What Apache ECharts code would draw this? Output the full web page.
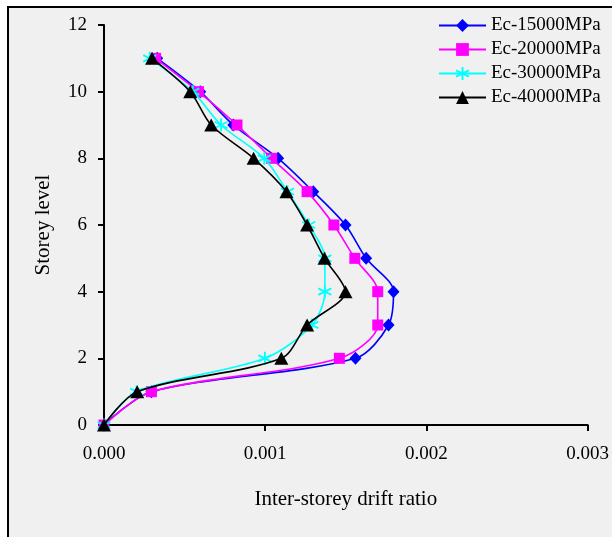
<!DOCTYPE html>
<html>
<head>
<meta charset="utf-8">
<script src="https://cdn.jsdelivr.net/npm/echarts@6/dist/echarts.min.js"></script>
<style>
html,body{margin:0;padding:0;background:#fff;}
#c{width:612px;height:537px;}
</style>
</head>
<body>
<div id="c"></div>
<script>
const levels = [0, 1, 2, 3, 4, 5, 6, 7, 8, 9, 10, 11];
const seriesNames = ['Ec-15000MPa', 'Ec-20000MPa', 'Ec-30000MPa', 'Ec-40000MPa'];
const drift15000 = [0, 0.000294, 0.00156, 0.001765, 0.001796, 0.001626, 0.001498, 0.001298, 0.00108, 0.000802, 0.000597, 0.00033];
const drift20000 = [0, 0.000294, 0.00146, 0.001698, 0.001698, 0.001556, 0.001426, 0.00126, 0.00104, 0.000825, 0.000586, 0.00032];
const drift30000 = [0, 0.000202, 0.000998, 0.00129, 0.00137, 0.00137, 0.00127, 0.001138, 0.000994, 0.000726, 0.000551, 0.000284];
const drift40000 = [0, 0.000206, 0.0011, 0.00126, 0.001498, 0.001368, 0.00126, 0.001132, 0.000928, 0.000665, 0.000535, 0.000298];
const xTicks = [0, 0.001, 0.002, 0.003];
const yTicks = [0, 2, 4, 6, 8, 10, 12];

const FONT = '"Liberation Serif", "Times New Roman", serif';
const starPath = 'path://M0,-10L0,10M-8.66,-5L8.66,5M-8.66,5L8.66,-5';

function pairs(xs) { return xs.map((v, i) => [v, levels[i]]); }

const styles = [
  {color: '#0000ff', symbol: 'diamond', size: [12, 13]},
  {color: '#ff00ff', symbol: 'rect', size: 11},
  {color: '#00ffff', symbol: starPath, size: 13},
  {color: '#000000', symbol: 'triangle', size: [14, 13]}
];
const allData = [drift15000, drift20000, drift30000, drift40000];

const chart = echarts.init(document.getElementById('c'), null, {renderer: 'canvas'});
chart.setOption({
  animation: false,
  backgroundColor: '#ffffff',
  graphic: [{
    type: 'rect', z: -10, silent: true,
    shape: {x: 8, y: 7, width: 700, height: 600},
    style: {fill: '#f0f0f0', stroke: '#000', lineWidth: 2}
  }],
  grid: {left: 104, top: 25, right: 22, bottom: 112, containLabel: false},
  legend: {
    orient: 'vertical', left: 438, top: 16, padding: 0,
    itemWidth: 47, itemHeight: 16, itemGap: 5,
    textStyle: {fontFamily: FONT, fontSize: 19, color: '#000'},
    data: seriesNames
  },
  xAxis: {
    type: 'value', min: 0, max: 0.003, interval: 0.001,
    name: 'Inter-storey drift ratio', nameLocation: 'middle', nameGap: 64,
    nameTextStyle: {fontFamily: FONT, fontSize: 21, color: '#000'},
    axisLine: {show: true, lineStyle: {color: '#000', width: 2}},
    axisTick: {show: true, inside: false, length: 6, lineStyle: {color: '#000', width: 2}},
    axisLabel: {fontFamily: FONT, fontSize: 19, color: '#000', margin: 20,
      formatter: v => v.toFixed(3)},
    splitLine: {show: false}
  },
  yAxis: {
    type: 'value', min: 0, max: 12, interval: 2,
    name: 'Storey level', nameLocation: 'middle', nameGap: 50, nameRotate: 90,
    nameTextStyle: {fontFamily: FONT, fontSize: 21, color: '#000'},
    axisLine: {show: true, lineStyle: {color: '#000', width: 2}},
    axisTick: {show: true, inside: false, length: 6, lineStyle: {color: '#000', width: 2}},
    axisLabel: {fontFamily: FONT, fontSize: 19, color: '#000', margin: 17},
    splitLine: {show: false}
  },
  series: seriesNames.map((n, i) => ({
    name: n, type: 'line', smooth: 0.3,
    data: pairs(allData[i]),
    symbol: styles[i].symbol, symbolSize: styles[i].size,
    showAllSymbol: true,
    lineStyle: {color: styles[i].color, width: 1.6},
    itemStyle: {color: styles[i].color, borderColor: styles[i].color, borderWidth: i === 2 ? 1.8 : 0, opacity: 1},
    z: 2 + i
  }))
});
</script>
</body>
</html>
